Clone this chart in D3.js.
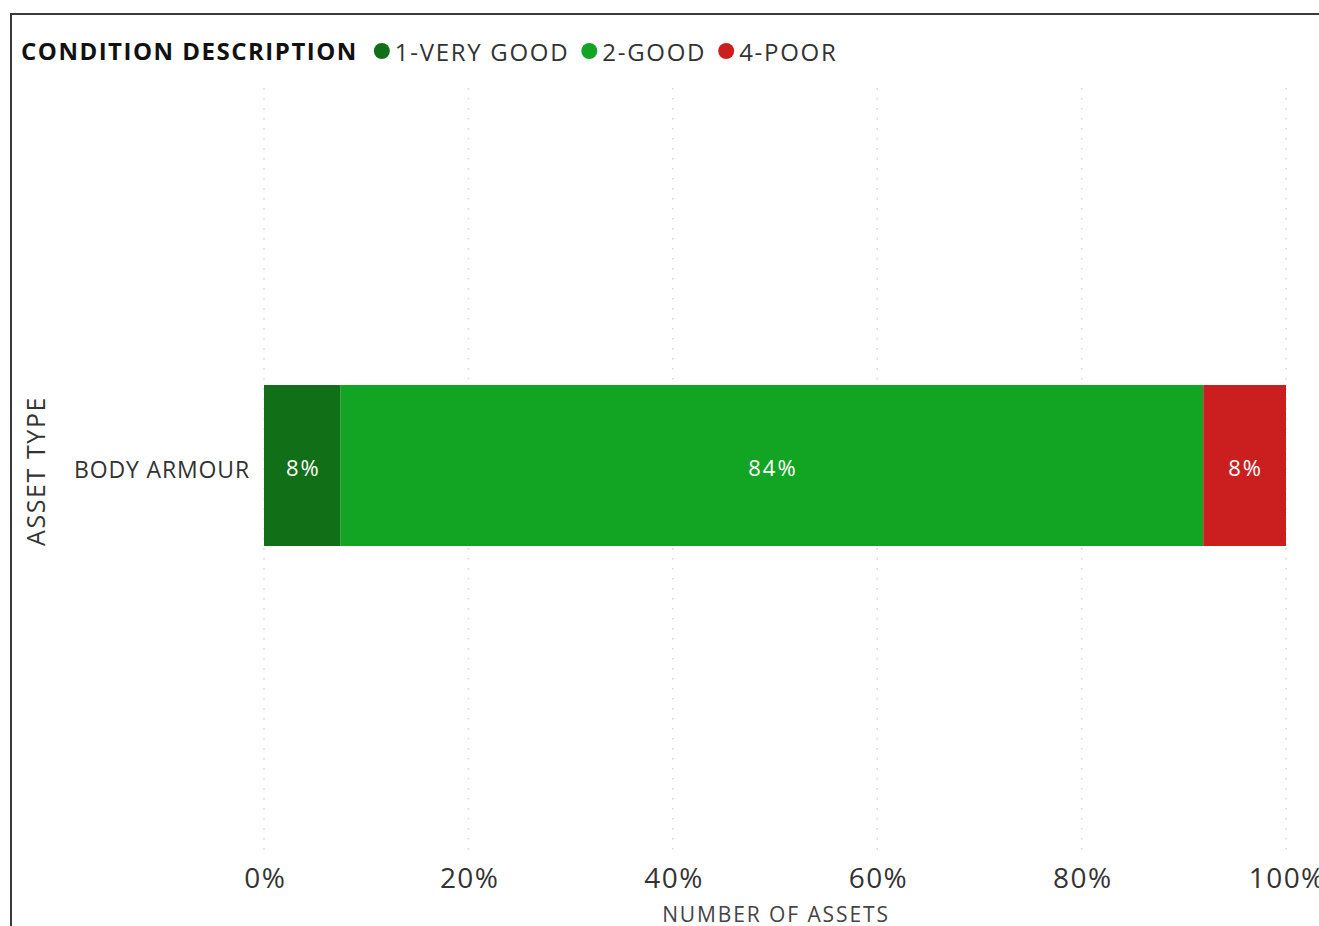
<!DOCTYPE html>
<html>
<head>
<meta charset="utf-8">
<script src="https://cdn.jsdelivr.net/npm/d3@7"></script>
<style>
  html, body { margin: 0; padding: 0; background: #fff; }
  svg { display: block; font-family: "Open Sans", "Noto Sans", sans-serif; }
</style>
</head>
<body>
<svg id="chart" width="1319" height="926"></svg>
<script>
// Asset condition breakdown (100% stacked bar)
const categories = ["BODY ARMOUR"];
const conditions = ["1-VERY GOOD", "2-GOOD", "4-POOR"];
const conditionColors = ["#116f17", "#12a423", "#cb1f1f"];
// share of assets per condition, in percent
const veryGood = [7.5];
const good = [84.4];
const poor = [8.1];
const tickValues = [0, 0.2, 0.4, 0.6, 0.8, 1.0];

const rows = categories.map((c, i) => ({
  category: c,
  "1-VERY GOOD": veryGood[i],
  "2-GOOD": good[i],
  "4-POOR": poor[i]
}));
const series = d3.stack().keys(conditions).offset(d3.stackOffsetExpand)(rows);

const svg = d3.select("#chart");

// frame
svg.append("path")
  .attr("d", "M11,926 V14 H1319")
  .attr("fill", "none")
  .attr("stroke", "#3a3a3a")
  .attr("stroke-width", 2);

const x = d3.scaleLinear().domain([0, 1]).range([264, 1286]);
const y = d3.scaleBand().domain(categories).range([385, 546]);
const color = d3.scaleOrdinal().domain(conditions).range(conditionColors);

// grid lines
svg.append("g")
  .selectAll("line")
  .data(tickValues)
  .join("line")
  .attr("x1", d => x(d)).attr("x2", d => x(d))
  .attr("y1", 88).attr("y2", 856)
  .attr("stroke", "#d6d6d6")
  .attr("stroke-width", 1.5)
  .attr("stroke-dasharray", "1.5,8.5");

// bars
const layer = svg.append("g")
  .selectAll("g")
  .data(series)
  .join("g")
  .attr("fill", d => color(d.key));

layer.selectAll("rect")
  .data(d => d.map(v => ({ key: d.key, v })))
  .join("rect")
  .attr("x", d => x(d.v[0]))
  .attr("width", d => x(d.v[1]) - x(d.v[0]))
  .attr("y", d => y(d.v.data.category))
  .attr("height", y.bandwidth());

// segment labels
const pct = d3.format(".0%");
layer.selectAll("text")
  .data(d => d.map(v => ({ key: d.key, v })))
  .join("text")
  .attr("x", d => (x(d.v[0]) + x(d.v[1])) / 2 + 1)
  .attr("y", 476)
  .attr("text-anchor", "middle")
  .attr("fill", "#ffffff")
  .attr("font-size", 22)
  .attr("letter-spacing", 2)
  .text(d => pct(d.v[1] - d.v[0]));

// x axis
const xAxis = svg.append("g")
  .attr("transform", "translate(0,888)")
  .call(d3.axisBottom(x).tickValues(tickValues).tickFormat(d3.format(".0%")).tickSize(0).tickPadding(0));
xAxis.select(".domain").remove();
xAxis.selectAll("text")
  .attr("font-size", 28)
  .attr("font-family", "'Open Sans', sans-serif")
  .attr("letter-spacing", 1.4)
  .attr("fill", "#333")
  .attr("dx", "0.7")
  .attr("dy", 0)
  .attr("y", 0);

// y axis labels
const yAxis = svg.append("g")
  .attr("transform", "translate(250,0)")
  .call(d3.axisLeft(y).tickSize(0).tickPadding(0));
yAxis.select(".domain").remove();
yAxis.selectAll("text")
  .attr("font-size", 23)
  .attr("font-family", "'Open Sans', sans-serif")
  .attr("letter-spacing", 0.85)
  .attr("fill", "#333")
  .attr("dy", "0.35em")
  .attr("y", 4);

// axis titles
svg.append("text")
  .attr("x", 776).attr("y", 922)
  .attr("text-anchor", "middle")
  .attr("font-size", 21)
  .attr("fill", "#444")
  .attr("letter-spacing", 1.9)
  .text("NUMBER OF ASSETS");

svg.append("text")
  .attr("transform", "translate(45,471) rotate(-90)")
  .attr("text-anchor", "middle")
  .attr("font-size", 25)
  .attr("fill", "#333")
  .attr("letter-spacing", 1.6)
  .text("ASSET TYPE");

// legend
const legend = svg.append("g").attr("transform", "translate(21,60)");
const title = legend.append("text")
  .attr("font-size", 24)
  .attr("font-weight", 700)
  .attr("fill", "#111")
  .attr("letter-spacing", 1.5)
  .text("CONDITION DESCRIPTION");
let lx = title.node().getComputedTextLength() + 24;
conditions.forEach((c, i) => {
  legend.append("circle")
    .attr("cx", lx).attr("cy", -9).attr("r", 8)
    .attr("fill", conditionColors[i]);
  const t = legend.append("text")
    .attr("x", lx + 13).attr("y", 1)
    .attr("font-size", 24)
    .attr("fill", "#333")
    .attr("letter-spacing", 1.7)
    .text(c);
  lx += 13 + t.node().getComputedTextLength() + 20;
});
</script>
</body>
</html>
